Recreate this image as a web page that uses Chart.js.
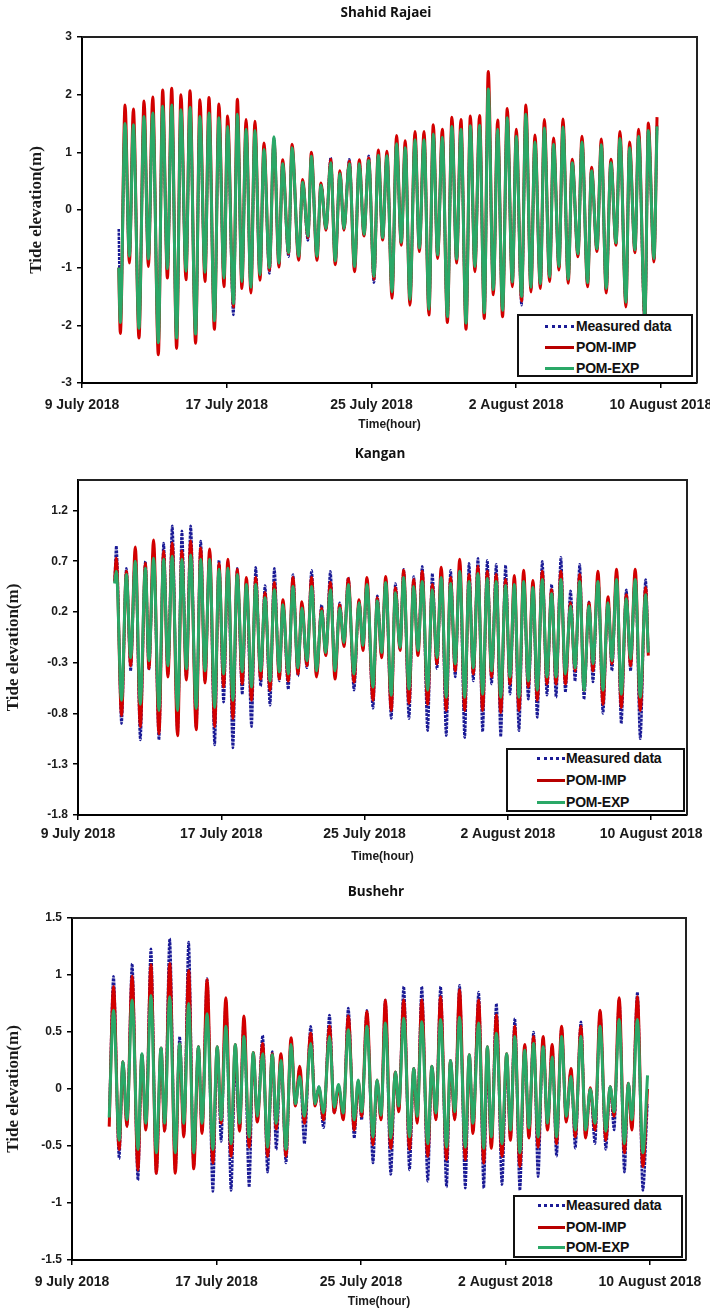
<!DOCTYPE html>
<html><head><meta charset="utf-8">
<script src="https://cdn.jsdelivr.net/npm/chart.js@4.4.1/dist/chart.umd.min.js"></script>
<style>
body{margin:0;background:#fff;width:710px;height:1316px;position:relative;overflow:hidden;font-family:"Liberation Sans",Arial,sans-serif}
canvas{position:absolute;left:0}
.ptitle{position:absolute;font:bold 13.5px "Open Sans",sans-serif;line-height:16px;transform:translateX(-50%);white-space:nowrap;color:#111}
.legend{position:absolute;background:#fff;border:2px solid #111;box-sizing:border-box;z-index:5}
.sample{position:absolute;height:0}
.ltxt{position:absolute;font:bold 14px "Liberation Sans",Arial,sans-serif;line-height:16px;margin-top:-8px;white-space:nowrap;letter-spacing:-0.2px;color:#111}
</style></head><body>
<script>
// ---------- shared axis data ----------
const xTickDays = [0, 8, 16, 24, 32];
const xTickLabels = ['9 July 2018', '17 July 2018', '25 July 2018', '2 August 2018', '10 August 2018'];
const seriesNames = ['Measured data', 'POM-IMP', 'POM-EXP'];

// ---------- Shahid Rajaei (days since 9 July 2018) ----------
const rajaeiTicks = [-3, -2, -1, 0, 1, 2, 3];
const rajaeiTickLabels = ['-3', '-2', '-1', '0', '1', '2', '3'];
const rajaeiTime = [2.03,2.12,2.38,2.62,2.84,3.15,3.43,3.67,3.91,4.22,
4.46,4.72,4.96,5.23,5.47,5.75,5.97,6.28,6.52,6.80,
7.02,7.32,7.57,7.85,8.05,8.37,8.59,8.84,9.07,9.34,
9.56,9.84,10.06,10.36,10.61,10.89,11.09,11.42,11.61,11.98,
12.20,12.49,12.68,12.99,13.21,13.49,13.75,14.00,14.26,14.48,
14.78,15.07,15.33,15.59,15.85,16.14,16.38,16.62,16.86,17.14,
17.39,17.65,17.87,18.13,18.41,18.65,18.91,19.18,19.42,19.66,
19.92,20.20,20.45,20.71,20.95,21.23,21.47,21.72,21.98,22.24,
22.46,22.74,22.98,23.25,23.51,23.79,24.01,24.30,24.54,24.82,
25.04,25.34,25.56,25.85,26.07,26.37,26.59,26.88,27.10,27.42,
27.64,27.95,28.17,28.47,28.71,28.98,29.24,29.52,29.74,30.07,
30.27,30.57,30.77,31.12,31.31,31.62,31.79];
const rajaeiMeasured = [-0.33,-1.90,1.45,-0.82,1.45,-2.00,1.60,-0.86,1.65,-2.25,
1.78,-1.05,1.80,-2.20,1.72,-1.08,1.75,-2.12,1.60,-1.10,
1.66,-1.90,1.58,-1.20,1.43,-1.82,1.64,-1.25,1.38,-1.35,
1.36,-1.14,1.03,-1.10,1.25,-0.94,0.82,-0.81,1.06,-0.82,
0.50,-0.53,0.92,-0.82,0.45,-0.33,0.91,-0.90,0.65,-0.33,
0.88,-1.00,0.82,-0.43,0.94,-1.26,0.96,-0.50,0.95,-1.45,
1.16,-0.58,1.10,-1.57,1.24,-0.68,1.24,-1.74,1.34,-0.80,
1.27,-1.88,1.47,-0.87,1.42,-1.98,1.48,-1.00,1.48,-1.80,
2.05,-1.40,1.42,-1.76,1.62,-1.27,1.30,-1.65,1.68,-1.36,
1.20,-1.30,1.44,-1.18,1.16,-1.00,1.46,-1.22,0.84,-0.78,
1.20,-1.28,0.70,-0.69,1.15,-1.40,0.84,-0.59,1.26,-1.62,
1.10,-0.71,1.30,-2.00,1.40,-0.86,1.47];
const rajaeiImp = [-1.00,-2.14,1.82,-0.92,1.75,-2.22,1.89,-0.98,1.96,-2.51,
2.08,-1.18,2.11,-2.40,2.00,-1.21,2.07,-2.31,1.91,-1.24,
1.95,-2.07,1.84,-1.33,1.63,-1.68,1.92,-1.36,1.57,-1.44,
1.54,-1.22,1.16,-1.05,1.22,-0.99,0.87,-0.76,1.14,-0.87,
0.53,-0.48,1.00,-0.87,0.47,-0.35,0.88,-0.95,0.68,-0.35,
0.85,-1.07,0.87,-0.45,0.90,-1.20,1.04,-0.52,1.02,-1.53,
1.29,-0.61,1.20,-1.65,1.36,-0.72,1.36,-1.82,1.48,-0.84,
1.40,-1.95,1.61,-0.92,1.57,-2.07,1.63,-1.07,1.64,-1.88,
2.40,-1.47,1.56,-1.85,1.76,-1.33,1.40,-1.58,1.82,-1.42,
1.30,-1.36,1.57,-1.24,1.25,-1.04,1.58,-1.27,0.88,-0.81,
1.28,-1.33,0.74,-0.72,1.23,-1.44,0.88,-0.61,1.36,-1.68,
1.18,-0.74,1.40,-1.90,1.51,-0.90,1.61];
const rajaeiExp = [-1.00,-1.95,1.50,-0.80,1.48,-2.05,1.62,-0.85,1.68,-2.30,
1.80,-1.02,1.82,-2.22,1.74,-1.06,1.78,-2.15,1.62,-1.08,
1.68,-1.92,1.60,-1.18,1.45,-1.62,1.66,-1.24,1.40,-1.34,
1.38,-1.12,1.05,-1.00,1.27,-0.92,0.80,-0.74,1.08,-0.80,
0.48,-0.45,0.93,-0.80,0.43,-0.32,0.82,-0.88,0.63,-0.32,
0.80,-0.98,0.80,-0.42,0.86,-1.15,0.95,-0.48,0.94,-1.42,
1.15,-0.56,1.08,-1.55,1.22,-0.66,1.22,-1.72,1.32,-0.78,
1.26,-1.85,1.45,-0.85,1.40,-1.96,1.46,-0.98,1.47,-1.78,
2.10,-1.38,1.40,-1.74,1.60,-1.25,1.28,-1.50,1.66,-1.34,
1.18,-1.28,1.42,-1.16,1.14,-0.98,1.44,-1.20,0.82,-0.76,
1.18,-1.26,0.68,-0.67,1.13,-1.36,0.82,-0.57,1.24,-1.60,
1.08,-0.69,1.28,-1.85,1.38,-0.84,1.45];

// ---------- Kangan ----------
const kanganTicks = [-1.8, -1.3, -0.8, -0.3, 0.2, 0.7, 1.2];
const kanganTickLabels = ['-1.8', '-1.3', '-0.8', '-0.3', '0.2', '0.7', '1.2'];
const kanganTime = [2.04,2.14,2.43,2.70,2.94,3.20,3.48,3.76,3.96,4.22,
4.52,4.78,5.02,5.26,5.56,5.80,6.05,6.29,6.60,6.85,
7.09,7.35,7.63,7.87,8.13,8.37,8.65,8.89,9.17,9.40,
9.69,9.92,10.20,10.44,10.72,10.96,11.24,11.44,11.74,12.00,
12.28,12.50,12.78,13.04,13.32,13.60,13.83,14.09,14.35,14.61,
14.85,15.09,15.41,15.69,15.91,16.13,16.47,16.71,16.95,17.18,
17.49,17.72,17.98,18.18,18.48,18.74,18.98,19.22,19.52,19.78,
20.04,20.28,20.56,20.80,21.06,21.31,21.59,21.83,22.07,22.33,
22.59,22.85,23.09,23.35,23.60,23.87,24.12,24.36,24.62,24.88,
25.14,25.40,25.64,25.92,26.18,26.44,26.69,26.96,27.21,27.50,
27.75,28.01,28.25,28.53,28.75,29.03,29.31,29.59,29.81,30.07,
30.33,30.61,30.85,31.11,31.39,31.69,31.84];
const kanganMeasured = [0.50,0.85,-0.90,0.63,-0.38,0.78,-1.06,0.70,-0.37,0.80,
-1.06,0.88,-0.42,1.05,-1.00,1.00,-0.45,1.05,-0.94,0.90,
-0.48,0.78,-1.11,0.71,-0.69,0.66,-1.14,0.63,-0.61,0.50,
-0.93,0.64,-0.53,0.46,-0.72,0.63,-0.48,0.29,-0.56,0.57,
-0.43,0.27,-0.35,0.61,-0.42,0.27,-0.22,0.60,-0.43,0.29,
-0.12,0.54,-0.57,0.31,-0.16,0.50,-0.75,0.36,-0.23,0.52,
-0.85,0.48,-0.17,0.62,-0.85,0.55,-0.20,0.65,-0.97,0.58,
-0.36,0.60,-1.02,0.61,-0.44,0.66,-1.04,0.68,-0.48,0.73,
-0.98,0.71,-0.51,0.67,-1.03,0.66,-0.61,0.50,-0.97,0.56,
-0.66,0.47,-0.84,0.70,-0.62,0.47,-0.64,0.74,-0.59,0.41,
-0.48,0.67,-0.66,0.30,-0.49,0.56,-0.80,0.32,-0.38,0.58,
-0.90,0.42,-0.38,0.58,-1.05,0.52,-0.20];
const kanganImp = [0.50,0.73,-0.82,0.60,-0.33,0.84,-0.93,0.68,-0.36,0.91,
-1.00,0.80,-0.44,0.88,-1.02,0.80,-0.47,0.90,-0.96,0.83,
-0.50,0.82,-0.93,0.68,-0.54,0.72,-0.85,0.62,-0.51,0.54,
-0.67,0.54,-0.46,0.39,-0.57,0.49,-0.46,0.32,-0.48,0.54,
-0.41,0.30,-0.33,0.54,-0.44,0.24,-0.23,0.49,-0.46,0.27,
-0.14,0.53,-0.49,0.32,-0.18,0.54,-0.67,0.34,-0.25,0.55,
-0.77,0.44,-0.18,0.61,-0.70,0.52,-0.23,0.60,-0.71,0.47,
-0.31,0.64,-0.77,0.54,-0.38,0.72,-0.77,0.57,-0.41,0.65,
-0.77,0.60,-0.44,0.57,-0.79,0.52,-0.51,0.56,-0.77,0.61,
-0.54,0.51,-0.67,0.60,-0.51,0.42,-0.51,0.60,-0.51,0.29,
-0.38,0.57,-0.57,0.29,-0.38,0.60,-0.71,0.35,-0.31,0.62,
-0.74,0.37,-0.33,0.62,-0.77,0.44,-0.23];
const kanganExp = [0.48,0.60,-0.67,0.57,-0.25,0.70,-0.71,0.63,-0.28,0.73,
-0.77,0.72,-0.33,0.75,-0.77,0.72,-0.36,0.76,-0.75,0.72,
-0.38,0.72,-0.74,0.62,-0.41,0.63,-0.67,0.57,-0.39,0.47,
-0.54,0.47,-0.38,0.34,-0.48,0.42,-0.39,0.27,-0.41,0.45,
-0.35,0.24,-0.28,0.45,-0.38,0.21,-0.20,0.42,-0.38,0.24,
-0.10,0.47,-0.41,0.29,-0.13,0.47,-0.54,0.31,-0.20,0.49,
-0.62,0.39,-0.15,0.54,-0.56,0.45,-0.18,0.50,-0.57,0.42,
-0.25,0.54,-0.64,0.48,-0.31,0.60,-0.64,0.50,-0.35,0.58,
-0.61,0.53,-0.38,0.50,-0.64,0.46,-0.44,0.47,-0.64,0.50,
-0.48,0.44,-0.57,0.52,-0.44,0.38,-0.44,0.52,-0.41,0.26,
-0.35,0.50,-0.57,0.26,-0.31,0.50,-0.57,0.29,-0.28,0.52,
-0.61,0.33,-0.26,0.52,-0.64,0.37,-0.20];

// ---------- Bushehr ----------
const bushehrTicks = [-1.5, -1, -0.5, 0, 0.5, 1, 1.5];
const bushehrTickLabels = ['-1.5', '-1', '-0.5', '0', '0.5', '1', '1.5'];
const bushehrTime = [2.06,2.30,2.61,2.82,3.04,3.33,3.65,3.87,4.09,4.37,
4.67,4.93,5.13,5.41,5.72,5.96,6.19,6.46,6.74,7.00,
7.20,7.48,7.80,8.04,8.26,8.52,8.81,9.04,9.28,9.52,
9.81,10.04,10.26,10.56,10.83,11.09,11.31,11.57,11.85,12.13,
12.37,12.61,12.87,13.22,13.46,13.67,13.93,14.26,14.52,14.76,
15.02,15.30,15.63,15.85,16.04,16.33,16.67,16.89,17.11,17.35,
17.65,17.91,18.09,18.37,18.69,18.93,19.11,19.37,19.70,19.93,
20.15,20.41,20.74,20.96,21.19,21.46,21.78,22.00,22.20,22.52,
22.80,23.00,23.22,23.50,23.81,24.07,24.28,24.52,24.80,25.07,
25.30,25.56,25.81,26.09,26.33,26.59,26.83,27.11,27.37,27.63,
27.87,28.18,28.44,28.70,28.96,29.24,29.56,29.80,30.02,30.30,
30.59,30.81,31.00,31.31,31.61,31.87];
const bushehrMeasured = [-0.25,0.99,-0.61,0.24,-0.32,1.10,-0.80,0.30,-0.34,1.23,
-0.74,0.36,-0.37,1.32,-0.72,0.46,-0.40,1.29,-0.68,0.37,
-0.37,0.97,-0.90,0.35,-0.46,0.78,-0.89,0.20,-0.35,0.62,
-0.86,0.30,-0.28,0.47,-0.73,0.33,-0.53,0.28,-0.65,0.43,
-0.14,0.18,-0.48,0.55,-0.14,0.02,-0.34,0.65,-0.21,0.02,
-0.26,0.71,-0.43,0.05,-0.27,0.69,-0.65,0.06,-0.26,0.78,
-0.75,0.15,-0.19,0.90,-0.71,0.18,-0.28,0.90,-0.81,0.20,
-0.26,0.90,-0.86,0.25,-0.26,0.91,-0.87,0.30,-0.37,0.85,
-0.87,0.20,-0.50,0.75,-0.84,0.25,-0.43,0.62,-0.89,0.38,
-0.42,0.50,-0.77,0.45,-0.35,0.37,-0.59,0.53,-0.28,0.17,
-0.52,0.59,-0.42,0.00,-0.48,0.68,-0.53,0.02,-0.36,0.79,
-0.73,0.05,-0.34,0.85,-0.89,-0.13];
const bushehrImp = [-0.33,0.90,-0.53,0.24,-0.33,0.99,-0.71,0.30,-0.36,1.09,
-0.74,0.36,-0.37,1.10,-0.74,0.40,-0.42,1.04,-0.70,0.37,
-0.39,0.96,-0.65,0.37,-0.30,0.80,-0.59,0.39,-0.37,0.64,
-0.51,0.32,-0.29,0.40,-0.59,0.31,-0.35,0.31,-0.59,0.45,
-0.15,0.20,-0.30,0.49,-0.15,0.01,-0.27,0.55,-0.21,0.02,
-0.27,0.64,-0.36,0.07,-0.24,0.68,-0.49,0.08,-0.27,0.78,
-0.52,0.15,-0.20,0.78,-0.53,0.18,-0.30,0.78,-0.59,0.20,
-0.27,0.81,-0.62,0.25,-0.27,0.87,-0.62,0.30,-0.39,0.78,
-0.65,0.37,-0.52,0.65,-0.59,0.31,-0.45,0.55,-0.68,0.39,
-0.43,0.46,-0.51,0.46,-0.36,0.39,-0.48,0.55,-0.29,0.18,
-0.42,0.55,-0.43,0.01,-0.36,0.69,-0.45,0.02,-0.24,0.80,
-0.56,0.05,-0.36,0.81,-0.68,0.00];
const bushehrExp = [-0.25,0.69,-0.45,0.24,-0.27,0.78,-0.53,0.31,-0.30,0.82,
-0.56,0.36,-0.30,0.81,-0.56,0.40,-0.30,0.75,-0.56,0.37,
-0.30,0.66,-0.53,0.37,-0.27,0.55,-0.48,0.39,-0.30,0.46,
-0.42,0.32,-0.24,0.31,-0.51,0.30,-0.30,0.25,-0.53,0.39,
-0.13,0.11,-0.24,0.40,-0.13,0.02,-0.21,0.46,-0.16,0.04,
-0.21,0.52,-0.27,0.08,-0.20,0.55,-0.42,0.08,-0.23,0.58,
-0.43,0.15,-0.15,0.62,-0.42,0.18,-0.24,0.59,-0.48,0.20,
-0.21,0.61,-0.51,0.25,-0.20,0.63,-0.51,0.30,-0.30,0.58,
-0.52,0.37,-0.42,0.49,-0.48,0.31,-0.36,0.46,-0.56,0.34,
-0.34,0.40,-0.42,0.37,-0.30,0.28,-0.42,0.46,-0.24,0.11,
-0.36,0.46,-0.36,0.00,-0.30,0.55,-0.37,0.02,-0.20,0.61,
-0.48,0.05,-0.27,0.61,-0.56,0.12];

// ---------- styling ----------
const BLUE = '#1b1b96', RED = '#d20000', GREEN = '#2aa867';

const boxPlugin = {
  id: 'box',
  afterDraw(c) {
    const a = c.chartArea, x = c.ctx;
    x.save(); x.strokeStyle = '#222'; x.lineWidth = 2;
    x.beginPath(); x.moveTo(a.left, a.top); x.lineTo(a.right, a.top); x.lineTo(a.right, a.bottom); x.stroke();
    x.restore();
  }
};

function pts(t, v) { return t.map((d, i) => ({ x: d, y: v[i] })); }

function makePanel(p) {
  const cv = document.createElement('canvas');
  cv.width = 710; cv.height = p.canvasH;
  cv.style.top = p.canvasTop + 'px';
  document.body.appendChild(cv);
  const plotTop = p.plot.top - p.canvasTop, plotBottom = p.plot.bottom - p.canvasTop;
  const common = { pointRadius: 0, fill: false, cubicInterpolationMode: 'monotone' };
  new Chart(cv, {
    type: 'line',
    data: {
      datasets: [
        Object.assign({ label: seriesNames[0], data: pts(p.time, p.measured), borderColor: BLUE, borderWidth: 2.5, borderDash: [3, 1], order: 3 }, common),
        Object.assign({ label: seriesNames[1], data: pts(p.time, p.imp), borderColor: RED, borderWidth: 3, order: 2 }, common),
        Object.assign({ label: seriesNames[2], data: pts(p.time, p.exp), borderColor: GREEN, borderWidth: 3, order: 1 }, common)
      ]
    },
    options: {
      responsive: false, animation: false, devicePixelRatio: 1,
      layout: { padding: { left: p.padL, top: plotTop, right: 710 - p.plot.right, bottom: 0 } },
      plugins: { legend: { display: false }, tooltip: { enabled: false } },
      scales: {
        x: {
          type: 'linear', min: 0, max: 34,
          afterBuildTicks: s => { s.ticks = xTickDays.map(v => ({ value: v })); },
          afterFit: s => { s.height = p.canvasH - plotBottom; s.paddingLeft = 0; s.paddingRight = 0; },
          ticks: { callback: (v, i) => xTickLabels[i], font: { family: 'Liberation Sans', weight: 'bold', size: 14 }, color: '#1a1a1a', padding: p.xPad, maxRotation: 0, autoSkip: false },
          grid: { display: true, drawOnChartArea: false, drawTicks: true, tickLength: 5, color: '#000', lineWidth: 1.5 },
          border: { display: true, color: '#000', width: 2 },
          title: { display: true, text: 'Time(hour)', font: { family: 'Liberation Sans', weight: 'bold', size: 12 }, color: '#1a1a1a', padding: { top: 0, bottom: p.xTitlePad } }
        },
        y: {
          min: p.yMin, max: p.yMax,
          afterBuildTicks: s => { s.ticks = p.yTicks.map(v => ({ value: v })); },
          afterFit: s => { s.width = p.plot.left - p.padL; s.paddingTop = 0; s.paddingBottom = 0; },
          ticks: { callback: (v, i) => p.yLabels[i], font: { family: 'Liberation Sans', weight: 'bold', size: 12 }, color: '#1a1a1a', padding: 5 },
          grid: { display: true, drawOnChartArea: false, drawTicks: true, tickLength: 5, color: '#000', lineWidth: 1.5 },
          border: { display: true, color: '#000', width: 2 },
          title: { display: true, text: 'Tide elevation(m)', font: { family: 'Liberation Serif', weight: 'bold', size: 17 }, color: '#1a1a1a', padding: { top: 0, bottom: 0 } }
        }
      }
    },
    plugins: [boxPlugin]
  });
  // panel title
  const t = document.createElement('div');
  t.className = 'ptitle'; t.textContent = p.title;
  t.style.left = p.titleX + 'px'; t.style.top = (p.titleY - 8) + 'px';
  document.body.appendChild(t);
  // legend
  const lg = document.createElement('div');
  lg.className = 'legend';
  Object.assign(lg.style, { left: p.legend.x + 'px', top: p.legend.y + 'px', width: p.legend.w + 'px', height: p.legend.h + 'px' });
  const styles = [`3px dotted ${BLUE}`, `3px solid #b80000`, `3px solid ${GREEN}`];
  seriesNames.forEach((name, i) => {
    const ry = p.legend.rows[i] - 2;
    const s = document.createElement('div');
    s.className = 'sample';
    Object.assign(s.style, { left: p.legend.sx + 'px', width: p.legend.sw + 'px', top: (ry - 1.5) + 'px', borderTop: styles[i] });
    lg.appendChild(s);
    const tx = document.createElement('div');
    tx.className = 'ltxt'; tx.textContent = name;
    Object.assign(tx.style, { left: p.legend.tx + 'px', top: ry + 'px' });
    lg.appendChild(tx);
  });
  document.body.appendChild(lg);
}

makePanel({
  title: 'Shahid Rajaei', titleX: 386, titleY: 12,
  canvasTop: 0, canvasH: 434, padL: 26, xPad: 9, xTitlePad: 2,
  plot: { left: 82, top: 37, right: 697, bottom: 383 },
  yMin: -3, yMax: 3, yTicks: rajaeiTicks, yLabels: rajaeiTickLabels,
  time: rajaeiTime, measured: rajaeiMeasured, imp: rajaeiImp, exp: rajaeiExp,
  legend: { x: 517, y: 314, w: 176, h: 63, rows: [12, 33, 54], sx: 26, sw: 29, tx: 57 }
});
makePanel({
  title: 'Kangan', titleX: 380, titleY: 453,
  canvasTop: 440, canvasH: 428, padL: 3, xPad: 6, xTitlePad: 4,
  plot: { left: 78, top: 480, right: 687, bottom: 815 },
  yMin: -1.8, yMax: 1.5, yTicks: kanganTicks, yLabels: kanganTickLabels,
  time: kanganTime, measured: kanganMeasured, imp: kanganImp, exp: kanganExp,
  legend: { x: 506, y: 748, w: 179, h: 64, rows: [10, 32, 54], sx: 29, sw: 28, tx: 58 }
});
makePanel({
  title: 'Bushehr', titleX: 376, titleY: 891,
  canvasTop: 880, canvasH: 433, padL: 3, xPad: 9, xTitlePad: 4,
  plot: { left: 72, top: 918, right: 686, bottom: 1260 },
  yMin: -1.5, yMax: 1.5, yTicks: bushehrTicks, yLabels: bushehrTickLabels,
  time: bushehrTime, measured: bushehrMeasured, imp: bushehrImp, exp: bushehrExp,
  legend: { x: 513, y: 1195, w: 170, h: 63, rows: [10, 32, 52], sx: 23, sw: 27, tx: 51 }
});
</script>
</body></html>
